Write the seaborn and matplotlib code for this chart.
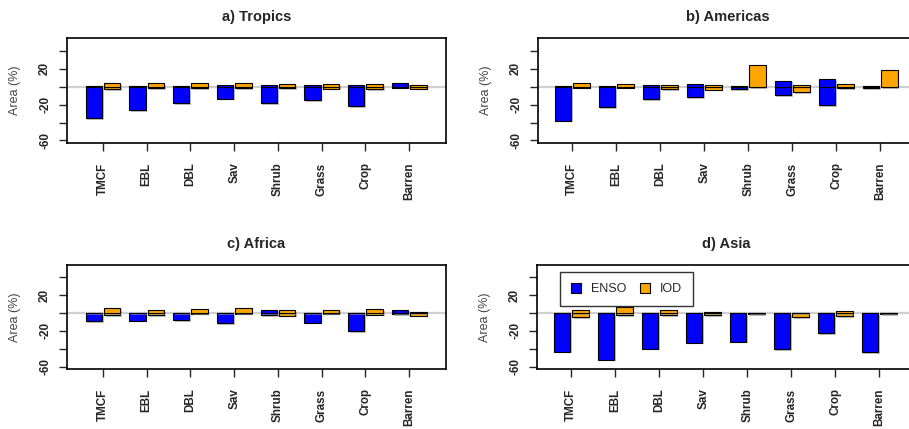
import pandas as pd
import matplotlib
matplotlib.use('Agg')
import matplotlib.pyplot as plt
import matplotlib.patheffects as pe
from matplotlib.patches import Patch
import seaborn as sns

categories = ['TMCF', 'EBL', 'DBL', 'Sav', 'Shrub', 'Grass', 'Crop', 'Barren']
indices = ['ENSO', 'IOD']
colors = {'ENSO': '#0000FF', 'IOD': '#FFA500'}

# area (%) with positive / negative response, per region and climate index
tropics_enso_pos = [0.7, 0.7, 0.7, 1.5, 1.5, 1.5, 1.5, 3.7]
tropics_enso_neg = [-35.5, -26.3, -18.5, -13.3, -18.5, -15.2, -21.9, -1.1]
tropics_iod_pos = [3.7, 3.7, 4.4, 3.7, 2.6, 3.0, 2.6, 2.2]
tropics_iod_neg = [-3.0, -1.9, -1.9, -1.9, -1.9, -2.2, -2.6, -2.2]

americas_enso_pos = [0.4, 0.4, 1.5, 2.6, 1.1, 6.7, 8.5, 0.7]
americas_enso_neg = [-37.8, -23.0, -14.4, -11.9, -3.0, -9.6, -20.7, -1.9]
americas_iod_pos = [3.7, 2.6, 2.2, 2.2, 23.7, 1.5, 2.6, 18.1]
americas_iod_neg = [-1.1, -1.1, -3.0, -3.3, -0.7, -6.3, -1.9, -0.7]

africa_enso_pos = [0.4, 0.4, 0.4, 0.4, 4.0, 0.4, 0.4, 3.7]
africa_enso_neg = [-9.3, -8.5, -8.1, -11.1, -2.2, -10.7, -20.4, -1.1]
africa_iod_pos = [5.9, 3.3, 4.8, 5.9, 3.0, 4.0, 4.4, 1.5]
africa_iod_neg = [-2.2, -2.2, -0.7, -0.7, -3.0, -0.7, -1.9, -3.0]

asia_enso_pos = [0.2, 0.2, 0.2, 0.2, 0.2, 0.2, 0.2, 0.2]
asia_enso_neg = [-43.3, -52.2, -40.0, -33.3, -32.2, -40.7, -22.6, -43.7]
asia_iod_pos = [3.0, 7.0, 3.7, 1.5, 0.4, 0.4, 1.9, 0.4]
asia_iod_neg = [-4.8, -2.6, -2.6, -2.2, -1.5, -4.4, -3.3, -1.1]

regions = [
    ('a) Tropics', tropics_enso_pos, tropics_enso_neg, tropics_iod_pos, tropics_iod_neg),
    ('b) Americas', americas_enso_pos, americas_enso_neg, americas_iod_pos, americas_iod_neg),
    ('c) Africa', africa_enso_pos, africa_enso_neg, africa_iod_pos, africa_iod_neg),
    ('d) Asia', asia_enso_pos, asia_enso_neg, asia_iod_pos, asia_iod_neg),
]

sns.set_style('white')
plt.rcParams['font.family'] = ['Liberation Sans', 'DejaVu Sans']

W, H = 909, 429
fig = plt.figure(figsize=(W / 100, H / 100), dpi=100)

# axes boxes in pixels: left, top, width, height
boxes = [(67, 38, 379, 105), (538, 38, 379, 105),
         (67, 265, 379, 104), (537, 265, 379, 104)]
xlefts = [-0.82, -0.78, -0.82, -0.78]

shadow = [pe.SimplePatchShadow(offset=(1.2, -1.2), shadow_rgbFace='#999999', alpha=0.6),
          pe.Normal()]

for k, (title, e_pos, e_neg, i_pos, i_neg) in enumerate(regions):
    l, t, w, h = boxes[k]
    ax = fig.add_axes([l / W, 1 - (t + h) / H, w / W, h / H])

    df = pd.DataFrame({
        'category': categories * 2,
        'index': ['ENSO'] * 8 + ['IOD'] * 8,
        'pos': e_pos + i_pos,
        'neg': e_neg + i_neg,
    })

    ax.axhline(0, color='#d0d0d0', lw=1.6, zorder=1)
    for col in ['neg', 'pos']:
        sns.barplot(data=df, x='category', y=col, hue='index', order=categories,
                    hue_order=indices, palette=colors, saturation=1,
                    width=0.84, gap=0.11, edgecolor='black', linewidth=0.8,
                    errorbar=None, legend=False, ax=ax, zorder=2)
    for p in ax.patches:
        p.set_path_effects(shadow)

    ax.set_xlim(xlefts[k], 7.84)
    ax.set_ylim(-62.8, 54)
    ax.set_yticks([-60, -40, -20, 0, 20, 40])
    ax.set_yticklabels(['-60', '', '-20', '', '20', ''])
    ax.set_xlabel('')
    ax.set_ylabel('Area (%)', fontsize=9, color='#444444')
    ax.yaxis.set_label_coords(-46 / w, 0.5)
    ax.set_title(title, fontsize=10.5, fontweight='bold', pad=12)

    ax.tick_params(axis='y', length=5.5, width=1, pad=6, labelsize=8.5,
                   direction='out', left=True)
    ax.tick_params(axis='x', length=6, width=1, pad=8, labelsize=8.4,
                   direction='out', bottom=True)
    for lab in ax.get_yticklabels():
        lab.set_rotation(90)
        lab.set_va('center')
        lab.set_fontweight('bold')
    for lab in ax.get_xticklabels():
        lab.set_rotation(90)
        lab.set_ha('center')
        lab.set_va('top')
        lab.set_fontweight('bold')
    for s in ax.spines.values():
        s.set_visible(True)
        s.set_color('black')
        s.set_linewidth(1.2)

    if k == 3:
        handles = [Patch(facecolor=colors[i], edgecolor='black', linewidth=0.8, label=i)
                   for i in indices]
        leg = ax.legend(handles=handles, loc='upper left', bbox_to_anchor=(0.06, 0.935),
                        borderaxespad=0, ncol=2, fontsize=9, frameon=True,
                        fancybox=False, framealpha=1, edgecolor='#333333',
                        handlelength=0.8, handleheight=0.8, handletextpad=0.8,
                        columnspacing=1.1, borderpad=0.9)
        leg.get_frame().set_linewidth(1)

fig.savefig('out.png', dpi=100)
